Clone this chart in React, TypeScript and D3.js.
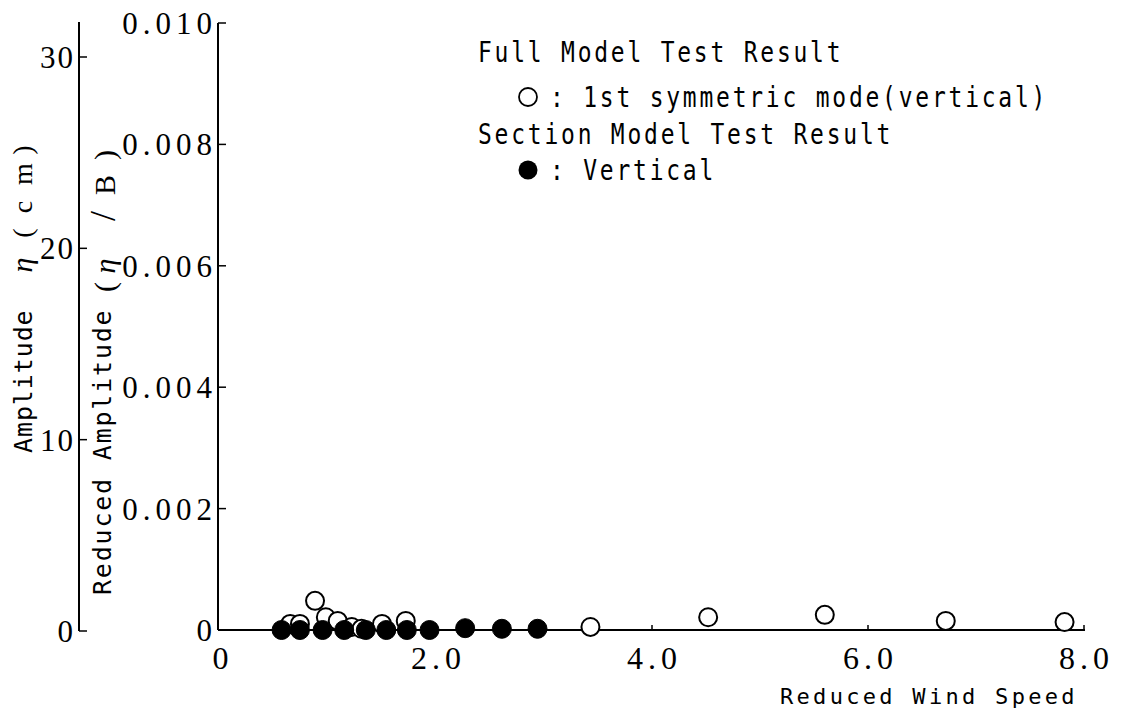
import React from "react";
import * as d3 from "d3";

// ---- data ----
const xTicks = [0, 2, 4, 6, 8];
const xTickLabels = ["0", "2.0", "4.0", "6.0", "8.0"];
const yRedTicks = [0, 0.002, 0.004, 0.006, 0.008, 0.01];
const yRedTickLabels = ["0", "0.002", "0.004", "0.006", "0.008", "0.010"];
const yCmTicks = [0, 10, 20, 30];
const yCmTickLabels = ["0", "10", "20", "30"];

// Full model test result: 1st symmetric mode (vertical) — open circles
const fullModelSpeed = [0.65, 0.74, 0.88, 0.98, 1.09, 1.22, 1.31, 1.5, 1.72, 3.43, 4.52, 5.6, 6.72, 7.82];
const fullModelAmp = [0.0001, 0.0001, 0.00048, 0.00021, 0.00015, 0.00005, 0.00002, 0.0001, 0.00015, 0.00005, 0.00021, 0.00025, 0.00015, 0.00013];

// Section model test result: vertical — filled circles
const sectionSpeed = [0.57, 0.74, 0.95, 1.15, 1.35, 1.54, 1.73, 1.94, 2.27, 2.61, 2.94];
const sectionAmp = [0, 0, 0, 0, 0, 0, 0, 0, 0.00003, 0.00002, 0.00002];

const legendHeaders = ["Full Model Test Result", "Section Model Test Result"];
const legendItems = [": 1st symmetric mode(vertical)", ": Vertical"];
const xTitle = "Reduced Wind Speed";
const yCmTitle = "Amplitude";
const yRedTitle = "Reduced Amplitude";

const SERIF = "'Liberation Serif', 'DejaVu Serif', serif";
const MONO = "'DejaVu Sans Mono', 'Liberation Mono', monospace";

function LegendText({ x, y, text }: { x: number; y: number; text: string }) {
  return (
    <g transform={`translate(${x}, ${y}) scale(0.82, 1)`}>
      <text x={0} y={0} fontFamily={MONO} fontSize={28} letterSpacing={3.4}>
        {text}
      </text>
    </g>
  );
}

export default function App() {
  const W = 1124;
  const H = 713;
  const x = d3.scaleLinear().domain([0, 8]).range([220, 1084]);
  const yR = d3.scaleLinear().domain([0, 0.01]).range([630, 23]);
  const yC = d3.scaleLinear().domain([0, 30]).range([631, 57]);

  const cmAxisX = 79;
  const redAxisX = 218;
  const baseY = yR(0);
  const xEnd = 1085;

  const open = fullModelSpeed.map((s, i) => ({ s, a: fullModelAmp[i] }));
  const filled = sectionSpeed.map((s, i) => ({ s, a: sectionAmp[i] }));

  const tickFs = 31;
  const redLs = 5;
  const cmLs = 2;
  const xLs = 5;

  return (
    <svg
      width={W}
      height={H}
      style={{ position: "absolute", left: 0, top: 0, display: "block" }}
    >
      <rect x={0} y={0} width={W} height={H} fill="#fff" />

      {/* outer cm axis */}
      <line x1={cmAxisX} y1={22} x2={cmAxisX} y2={yC(0)} stroke="#000" strokeWidth={2} />
      {yCmTicks.map((t, i) => (
        <g key={"c" + t}>
          <line x1={cmAxisX} x2={cmAxisX + 8} y1={yC(t)} y2={yC(t)} stroke="#000" strokeWidth={1.5} />
          <text
            x={cmAxisX - 6 + cmLs}
            y={yC(t) + 11}
            textAnchor="end"
            fontFamily={SERIF}
            fontSize={tickFs}
            letterSpacing={cmLs}
          >
            {yCmTickLabels[i]}
          </text>
        </g>
      ))}

      {/* inner reduced amplitude axis */}
      <line x1={redAxisX} y1={yR(0.01)} x2={redAxisX} y2={baseY} stroke="#000" strokeWidth={2} />
      {yRedTicks.map((t, i) => (
        <g key={"r" + t}>
          <line x1={redAxisX} x2={redAxisX + 8} y1={yR(t)} y2={yR(t)} stroke="#000" strokeWidth={1.5} />
          <text
            x={redAxisX - 6 + redLs}
            y={yR(t) + 11}
            textAnchor="end"
            fontFamily={SERIF}
            fontSize={tickFs}
            letterSpacing={redLs}
          >
            {yRedTickLabels[i]}
          </text>
        </g>
      ))}

      {/* x axis */}
      <line x1={redAxisX} y1={baseY} x2={xEnd} y2={baseY} stroke="#000" strokeWidth={2} />
      {xTicks.map((t, i) => (
        <g key={"x" + t}>
          {t > 0 && (
            <line x1={x(t)} x2={x(t)} y1={baseY} y2={baseY - 5} stroke="#000" strokeWidth={1.5} />
          )}
          <text
            x={x(t) + (t === 0 ? 3 : xLs / 2)}
            y={669}
            textAnchor="middle"
            fontFamily={SERIF}
            fontSize={32}
            letterSpacing={xLs}
          >
            {xTickLabels[i]}
          </text>
        </g>
      ))}

      {/* x title */}
      <text x={780} y={704} fontFamily={MONO} fontSize={22} letterSpacing={3.3}>
        {xTitle}
      </text>

      {/* outer y title */}
      <g transform={`translate(32, 453) rotate(-90)`}>
        <text x={0} y={0} fontFamily={MONO} fontSize={25} letterSpacing={0.9}>
          {yCmTitle}
        </text>
        <text x={188} y={0} textAnchor="middle" fontFamily={SERIF} fontSize={30} fontStyle="italic">η</text>
        <text x={220} y={0} textAnchor="middle" fontFamily={SERIF} fontSize={28}>(</text>
        <text x={246} y={0} textAnchor="middle" fontFamily={SERIF} fontSize={28}>c</text>
        <text x={279} y={0} textAnchor="middle" fontFamily={SERIF} fontSize={28}>m</text>
        <text x={303} y={0} textAnchor="middle" fontFamily={SERIF} fontSize={28}>)</text>
      </g>

      {/* inner y title */}
      <g transform={`translate(111, 595) rotate(-90)`}>
        <text x={0} y={0} fontFamily={MONO} fontSize={25} letterSpacing={1.8}>
          {yRedTitle}
        </text>
        <text x={308} y={4} textAnchor="middle" fontFamily={SERIF} fontSize={30}>(</text>
        <text x={329} y={4} textAnchor="middle" fontFamily={SERIF} fontSize={30} fontStyle="italic">η</text>
        <text x={379} y={4} textAnchor="middle" fontFamily={SERIF} fontSize={36}>/</text>
        <text x={410} y={4} textAnchor="middle" fontFamily={SERIF} fontSize={30}>B</text>
        <text x={440} y={4} textAnchor="middle" fontFamily={SERIF} fontSize={30}>)</text>
      </g>

      {/* data: open circles below filled */}
      {open.map((d, i) => (
        <circle key={"o" + i} cx={x(d.s)} cy={yR(d.a)} r={9} fill="#fff" stroke="#000" strokeWidth={2} />
      ))}
      {filled.map((d, i) => (
        <circle key={"f" + i} cx={x(d.s)} cy={yR(d.a)} r={9.5} fill="#000" stroke="#000" strokeWidth={1} />
      ))}

      {/* legend */}
      <LegendText x={478} y={62} text={legendHeaders[0]} />
      <circle cx={528} cy={97} r={9} fill="#fff" stroke="#000" strokeWidth={1.8} />
      <LegendText x={550} y={107} text={legendItems[0]} />
      <LegendText x={478} y={144} text={legendHeaders[1]} />
      <circle cx={528} cy={170} r={9.5} fill="#000" />
      <LegendText x={550} y={180} text={legendItems[1]} />
    </svg>
  );
}
